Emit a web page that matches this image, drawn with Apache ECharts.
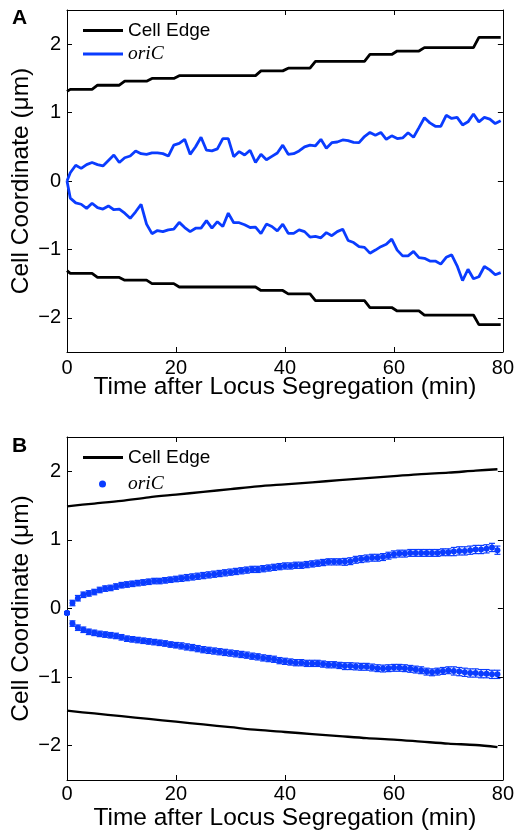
<!DOCTYPE html>
<html><head><meta charset="utf-8">
<script src="https://cdn.jsdelivr.net/npm/echarts@6/dist/echarts.min.js"></script>
<style>html,body{margin:0;padding:0;background:#fff}#c{width:517px;height:834px}</style>
</head><body><div id="c"></div>
<script>
// ---------- DATA ----------
const xTicks = [0, 20, 40, 60, 80];
const yTicks = [-2, -1, 0, 1, 2];

// Panel A: sample times (min)
const tA = [0, 0.6, 1.6, 2.6, 3.6, 4.6, 5.6, 6.6, 7.6, 8.6, 9.6,
  10.6, 11.6, 12.6, 13.6, 14.6, 15.6, 16.6, 17.6, 18.6, 19.6,
  20.6, 21.6, 22.6, 23.6, 24.6, 25.6, 26.6, 27.6, 28.6, 29.6,
  30.6, 31.6, 32.6, 33.6, 34.6, 35.6, 36.6, 37.6, 38.6, 39.6,
  40.6, 41.6, 42.6, 43.6, 44.6, 45.6, 46.6, 47.6, 48.6, 49.6,
  50.6, 51.6, 52.6, 53.6, 54.6, 55.6, 56.6, 57.6, 58.6, 59.6,
  60.6, 61.6, 62.6, 63.6, 64.6, 65.6, 66.6, 67.6, 68.6, 69.6,
  70.6, 71.6, 72.6, 73.6, 74.6, 75.6, 76.6, 77.6, 78.6, 79.6];

const edgeTopA = [1.31,
  1.34, 1.34, 1.34, 1.34, 1.34, 1.40, 1.40, 1.40, 1.40, 1.40,
  1.46, 1.46, 1.46, 1.46, 1.46, 1.50, 1.50, 1.50, 1.50, 1.50,
  1.54, 1.54, 1.54, 1.54, 1.54, 1.54, 1.54, 1.54, 1.54, 1.54,
  1.54, 1.54, 1.54, 1.54, 1.54, 1.61, 1.61, 1.61, 1.61, 1.61,
  1.65, 1.65, 1.65, 1.65, 1.65, 1.75, 1.75, 1.75, 1.75, 1.75,
  1.75, 1.75, 1.75, 1.75, 1.75, 1.85, 1.85, 1.85, 1.85, 1.85,
  1.90, 1.90, 1.90, 1.90, 1.90, 1.95, 1.95, 1.95, 1.95, 1.95,
  1.95, 1.95, 1.95, 1.95, 1.95, 2.10, 2.10, 2.10, 2.10, 2.10];

const edgeBotA = [-1.31,
  -1.35, -1.35, -1.35, -1.35, -1.35, -1.41, -1.41, -1.41, -1.41, -1.41,
  -1.45, -1.45, -1.45, -1.45, -1.45, -1.50, -1.50, -1.50, -1.50, -1.50,
  -1.55, -1.55, -1.55, -1.55, -1.55, -1.55, -1.55, -1.55, -1.55, -1.55,
  -1.55, -1.55, -1.55, -1.55, -1.55, -1.60, -1.60, -1.60, -1.60, -1.60,
  -1.65, -1.65, -1.65, -1.65, -1.65, -1.75, -1.75, -1.75, -1.75, -1.75,
  -1.75, -1.75, -1.75, -1.75, -1.75, -1.85, -1.85, -1.85, -1.85, -1.85,
  -1.90, -1.90, -1.90, -1.90, -1.90, -1.96, -1.96, -1.96, -1.96, -1.96,
  -1.96, -1.96, -1.96, -1.96, -1.96, -2.10, -2.10, -2.10, -2.10, -2.10];

const oriUpA = [0,
  0.12, 0.23, 0.185, 0.24, 0.27, 0.24, 0.22, 0.30, 0.38, 0.27,
  0.34, 0.365, 0.44, 0.40, 0.39, 0.41, 0.41, 0.40, 0.365, 0.525,
  0.55, 0.61, 0.39, 0.50, 0.64, 0.45, 0.44, 0.47, 0.62, 0.62,
  0.355, 0.43, 0.38, 0.45, 0.27, 0.39, 0.31, 0.36, 0.41, 0.525,
  0.39, 0.40, 0.44, 0.50, 0.525, 0.515, 0.61, 0.48, 0.56, 0.57,
  0.60, 0.59, 0.565, 0.56, 0.65, 0.71, 0.67, 0.71, 0.61, 0.66,
  0.62, 0.63, 0.705, 0.64, 0.78, 0.925, 0.85, 0.80, 0.80, 0.96,
  0.915, 0.93, 0.82, 0.865, 0.98, 0.865, 0.93, 0.905, 0.84, 0.88];

const oriLoA = [0,
  -0.25, -0.32, -0.34, -0.40, -0.325, -0.39, -0.41, -0.365, -0.42, -0.41,
  -0.47, -0.545, -0.45, -0.34, -0.63, -0.77, -0.725, -0.74, -0.715, -0.705,
  -0.605, -0.68, -0.74, -0.69, -0.69, -0.58, -0.69, -0.595, -0.665, -0.47,
  -0.61, -0.61, -0.64, -0.68, -0.675, -0.77, -0.63, -0.665, -0.73, -0.63,
  -0.765, -0.765, -0.715, -0.74, -0.82, -0.81, -0.83, -0.755, -0.80, -0.74,
  -0.705, -0.87, -0.90, -0.96, -0.97, -1.055, -1.01, -0.96, -0.925, -0.85,
  -1.01, -1.095, -1.095, -1.03, -1.12, -1.13, -1.17, -1.17, -1.215, -1.115,
  -1.08, -1.24, -1.455, -1.29, -1.43, -1.40, -1.25, -1.30, -1.37, -1.34];

// Panel B: cell edge (averaged)
const tEdgeB = [0, 5, 10, 15, 20, 25, 30, 35, 40, 45, 50, 55, 60, 65, 70, 75, 79];
const edgeTopB = [1.49, 1.53, 1.57, 1.62, 1.66, 1.70, 1.74, 1.78, 1.81, 1.84, 1.87, 1.90, 1.93, 1.96, 1.98, 2.01, 2.03];
const edgeBotB = [-1.49, -1.53, -1.57, -1.61, -1.65, -1.69, -1.73, -1.77, -1.80, -1.83, -1.86, -1.89, -1.91, -1.94, -1.97, -1.99, -2.02];

// Panel B: oriC mean positions with error
const tB = [0, 1, 2, 3, 4, 5, 6, 7, 8, 9, 10,
  11, 12, 13, 14, 15, 16, 17, 18, 19, 20,
  21, 22, 23, 24, 25, 26, 27, 28, 29, 30,
  31, 32, 33, 34, 35, 36, 37, 38, 39, 40,
  41, 42, 43, 44, 45, 46, 47, 48, 49, 50,
  51, 52, 53, 54, 55, 56, 57, 58, 59, 60,
  61, 62, 63, 64, 65, 66, 67, 68, 69, 70,
  71, 72, 73, 74, 75, 76, 77, 78, 79];
const oriUpB = [-0.065,
  0.08, 0.15, 0.20, 0.22, 0.24, 0.27, 0.29, 0.30, 0.32, 0.34,
  0.35, 0.36, 0.37, 0.38, 0.39, 0.40, 0.40, 0.41, 0.42, 0.43,
  0.44, 0.45, 0.46, 0.47, 0.48, 0.49, 0.50, 0.51, 0.52, 0.53,
  0.54, 0.55, 0.56, 0.57, 0.57, 0.58, 0.59, 0.60, 0.61, 0.62,
  0.62, 0.63, 0.63, 0.64, 0.65, 0.66, 0.67, 0.68, 0.68, 0.68,
  0.68, 0.69, 0.71, 0.72, 0.73, 0.74, 0.74, 0.75, 0.77, 0.79,
  0.80, 0.80, 0.81, 0.81, 0.81, 0.81, 0.81, 0.81, 0.82, 0.82,
  0.83, 0.84, 0.84, 0.85, 0.86, 0.86, 0.87, 0.89, 0.85];
const oriLoB = [-0.065,
  -0.22, -0.28, -0.31, -0.34, -0.355, -0.37, -0.38, -0.39, -0.40, -0.42,
  -0.44, -0.45, -0.46, -0.47, -0.48, -0.49, -0.50, -0.51, -0.525, -0.535,
  -0.545, -0.56, -0.57, -0.585, -0.60, -0.61, -0.62, -0.63, -0.64, -0.65,
  -0.66, -0.67, -0.68, -0.695, -0.705, -0.72, -0.73, -0.74, -0.76, -0.77,
  -0.78, -0.79, -0.79, -0.80, -0.80, -0.80, -0.81, -0.82, -0.82, -0.83,
  -0.84, -0.84, -0.845, -0.85, -0.85, -0.86, -0.87, -0.875, -0.87, -0.865,
  -0.865, -0.87, -0.88, -0.89, -0.90, -0.92, -0.93, -0.92, -0.91, -0.90,
  -0.91, -0.92, -0.93, -0.94, -0.94, -0.95, -0.95, -0.96, -0.96];
const errB = [0.02,
  0.04, 0.04, 0.04, 0.04, 0.04, 0.04, 0.04, 0.04, 0.04, 0.04,
  0.04, 0.04, 0.04, 0.04, 0.04, 0.04, 0.04, 0.04, 0.04, 0.04,
  0.045, 0.045, 0.045, 0.045, 0.045, 0.045, 0.045, 0.045, 0.045, 0.045,
  0.045, 0.045, 0.045, 0.045, 0.045, 0.045, 0.045, 0.045, 0.045, 0.045,
  0.045, 0.045, 0.045, 0.045, 0.045, 0.045, 0.045, 0.045, 0.045, 0.045,
  0.05, 0.05, 0.05, 0.05, 0.05, 0.05, 0.05, 0.05, 0.05, 0.05,
  0.05, 0.05, 0.05, 0.05, 0.05, 0.05, 0.05, 0.05, 0.05, 0.05,
  0.06, 0.06, 0.06, 0.06, 0.06, 0.06, 0.06, 0.06, 0.06];

// ---------- CHART ----------
const BLUE = '#0a3cff';
const FONT = 'Liberation Sans';
const zip = (xs, ys) => xs.map((x, i) => [x, ys[i]]);
const zipErr = (xs, ys, es) => xs.map((x, i) => [x, ys[i], es[i]]);
const fmtY = v => (v < 0 ? '\u2212' + Math.abs(v) : String(v));

function axesFor(g, labelMargin, titleGap) {
  const common = {
    gridIndex: g, type: 'value', splitLine: { show: false },
    axisLine: { show: true, onZero: false, lineStyle: { color: '#000', width: 1 } },
    axisTick: { show: true, inside: true, length: 5, lineStyle: { color: '#000' } }
  };
  const xa = Object.assign({}, common, {
    min: 0, max: 80, position: 'bottom',
    axisTick: Object.assign({}, common.axisTick, { customValues: xTicks }),
    axisLabel: { customValues: xTicks, color: '#000', fontSize: 20, fontFamily: FONT, margin: labelMargin },
    name: 'Time after Locus Segregation (min)', nameLocation: 'middle', nameGap: titleGap, nameMoveOverlap: false,
    nameTextStyle: { color: '#000', fontSize: 24.5, fontFamily: FONT }
  });
  const xt = Object.assign({}, common, {
    min: 0, max: 80, position: 'top',
    axisTick: Object.assign({}, common.axisTick, { customValues: xTicks }),
    axisLabel: { show: false }
  });
  const ya = Object.assign({}, common, {
    min: -2.5, max: 2.5, position: 'left',
    axisTick: Object.assign({}, common.axisTick, { customValues: yTicks }),
    axisLabel: { customValues: yTicks, formatter: fmtY, color: '#000', fontSize: 20, fontFamily: FONT, margin: 6 },
    name: 'Cell Coordinate (\u03bcm)', nameLocation: 'middle', nameGap: 33, nameRotate: 90, nameMoveOverlap: false,
    nameTextStyle: { color: '#000', fontSize: 24.5, fontFamily: FONT }
  });
  const yr = Object.assign({}, common, {
    min: -2.5, max: 2.5, position: 'right',
    axisTick: Object.assign({}, common.axisTick, { customValues: yTicks }),
    axisLabel: { show: false }
  });
  return { x: [xa, xt], y: [ya, yr] };
}

const aA = axesFor(0, 6, 23), aB = axesFor(1, 4, 26);

function errRender(params, api) {
  const x = api.value(0), y = api.value(1), e = api.value(2);
  const hi = api.coord([x, y + e]), lo = api.coord([x, y - e]);
  const w = 3;
  const st = { stroke: BLUE, lineWidth: 1.2 };
  return {
    type: 'group', children: [
      { type: 'line', shape: { x1: hi[0], y1: hi[1], x2: lo[0], y2: lo[1] }, style: st },
      { type: 'line', shape: { x1: hi[0] - w, y1: hi[1], x2: hi[0] + w, y2: hi[1] }, style: st },
      { type: 'line', shape: { x1: lo[0] - w, y1: lo[1], x2: lo[0] + w, y2: lo[1] }, style: st }
    ]
  };
}

const lineA = (name, data, color) => ({
  type: 'line', name, data, xAxisIndex: 0, yAxisIndex: 0, showSymbol: false, symbol: 'none',
  lineStyle: { color, width: 2.8 }, itemStyle: { color }
});

const option = {
  animation: false,
  title: [
    { text: 'A', left: 12, top: 8, padding: 0, textStyle: { fontSize: 21, fontWeight: 'bold', color: '#000', fontFamily: FONT } },
    { text: 'B', left: 12, top: 436, padding: 0, textStyle: { fontSize: 21, fontWeight: 'bold', color: '#000', fontFamily: FONT } }
  ],
  grid: [
    { left: 67, top: 10, width: 441, height: 342 },
    { left: 67, top: 437, width: 441, height: 343 }
  ],
  xAxis: [aA.x[0], aA.x[1], aB.x[0], aB.x[1]].map((a, i) => Object.assign({}, a, { gridIndex: i < 2 ? 0 : 1 })),
  yAxis: [aA.y[0], aA.y[1], aB.y[0], aB.y[1]].map((a, i) => Object.assign({}, a, { gridIndex: i < 2 ? 0 : 1 })),
  legend: [
    {
      data: ['Cell Edge', 'oriC'], orient: 'vertical', left: 83, top: 21, itemGap: 4, padding: 0,
      itemWidth: 40, itemHeight: 3, icon: 'rect', selectedMode: false,
      formatter: n => (n === 'oriC' ? '{i|oriC}' : n),
      textStyle: { fontSize: 19, color: '#000', fontFamily: FONT,
        rich: { i: { fontStyle: 'italic', fontFamily: 'Liberation Serif', fontSize: 19.5, color: '#000' } } }
    },
    {
      data: ['Cell Edge '], orient: 'vertical', left: 83, top: 448, padding: 0, itemWidth: 40, itemHeight: 3, icon: 'rect',
      selectedMode: false, formatter: () => 'Cell Edge',
      textStyle: { fontSize: 19, color: '#000', fontFamily: FONT }
    },
    {
      data: ['oriC '], orient: 'vertical', left: 99, top: 474, padding: 0, itemWidth: 7, itemHeight: 7, icon: 'circle',
      selectedMode: false, formatter: () => '{i|oriC}',
      textStyle: { fontSize: 19, color: '#000', fontFamily: FONT,
        rich: { i: { fontStyle: 'italic', fontFamily: 'Liberation Serif', fontSize: 19.5, color: '#000', padding: [0, 0, 0, 17] } } }
    }
  ],
  series: [
    lineA('Cell Edge', zip(tA, edgeTopA), '#000'),
    lineA('Cell Edge', zip(tA, edgeBotA), '#000'),
    lineA('oriC', zip(tA, oriUpA), BLUE),
    lineA('oriC', zip(tA, oriLoA), BLUE),
    { type: 'line', name: 'Cell Edge ', data: zip(tEdgeB, edgeTopB), xAxisIndex: 2, yAxisIndex: 2, showSymbol: false, symbol: 'none', smooth: 0.3,
      lineStyle: { color: '#000', width: 2.3 }, itemStyle: { color: '#000' } },
    { type: 'line', name: 'Cell Edge ', data: zip(tEdgeB, edgeBotB), xAxisIndex: 2, yAxisIndex: 2, showSymbol: false, symbol: 'none', smooth: 0.3,
      lineStyle: { color: '#000', width: 2.3 }, itemStyle: { color: '#000' } },
    { type: 'custom', name: 'err', renderItem: errRender, data: zipErr(tB, oriUpB, errB), xAxisIndex: 2, yAxisIndex: 2, encode: { x: 0, y: [1] }, silent: true },
    { type: 'custom', name: 'err', renderItem: errRender, data: zipErr(tB, oriLoB, errB), xAxisIndex: 2, yAxisIndex: 2, encode: { x: 0, y: [1] }, silent: true },
    { type: 'scatter', name: 'oriC ', data: zip(tB, oriUpB), xAxisIndex: 2, yAxisIndex: 2, symbolSize: 6, itemStyle: { color: BLUE, opacity: 1 } },
    { type: 'scatter', name: 'oriC ', data: zip(tB, oriLoB), xAxisIndex: 2, yAxisIndex: 2, symbolSize: 6, itemStyle: { color: BLUE, opacity: 1 } }
  ]
};

const chart = echarts.init(document.getElementById('c'), null, { renderer: 'canvas' });
chart.setOption(option);
</script>
</body></html>
